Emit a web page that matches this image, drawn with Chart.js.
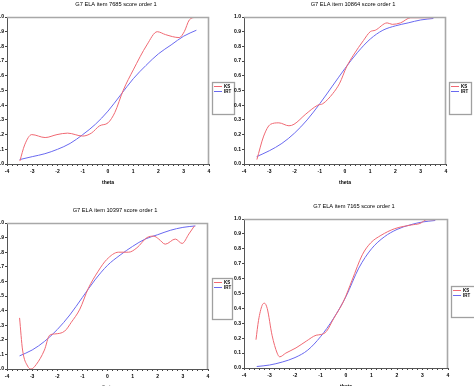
<!DOCTYPE html>
<html><head><meta charset="utf-8">
<script src="https://cdn.jsdelivr.net/npm/chart.js@4.4.1/dist/chart.umd.min.js"></script>
<style>
html,body{margin:0;padding:0;background:#fff;overflow:hidden;width:474px;height:386px;}
canvas{position:absolute;}
</style></head><body>
<script>
// ---------- data ----------
const titles = ["G7 ELA item 7685 score order 1","G7 ELA item 10864 score order 1","G7 ELA item 10397 score order 1","G7 ELA item 7165 score order 1"];
const seriesNames = ["KS","IRT"];
const xTitle = "theta";
const yTicks = [0,0.1,0.2,0.3,0.4,0.5,0.6,0.7,0.8,0.9,1.0];
const thetaIRT = [-3.5,-3,-2.5,-2,-1.5,-1,-0.5,0,0.5,1,1.5,2,2.5,3,3.5];

const thetaKS1 = [-3.49,-3.3,-3.02,-2.49,-2.02,-1.6,-1.0,-0.66,-0.33,0,0.27,0.6,1.0,1.54,1.95,2.28,2.82,3.02,3.22,3.48];
const ks1      = [0.02,0.13,0.20,0.18,0.20,0.21,0.19,0.21,0.26,0.28,0.35,0.50,0.64,0.81,0.90,0.88,0.86,0.90,0.98,1.0];
const irt1     = [0.03,0.05,0.07,0.10,0.14,0.20,0.27,0.36,0.47,0.58,0.67,0.75,0.81,0.87,0.91];

const thetaKS2 = [-3.49,-3.22,-2.95,-2.62,-2.22,-2.02,-1.55,-1.08,-0.88,-0.48,-0.21,0.06,0.33,0.73,1.0,1.2,1.67,1.87,2.2,2.6,3.48];
const ks2      = [0.03,0.19,0.27,0.28,0.26,0.27,0.34,0.40,0.41,0.48,0.55,0.66,0.74,0.84,0.90,0.91,0.96,0.95,0.96,0.995,0.995];
const irt2     = [0.05,0.09,0.14,0.21,0.30,0.41,0.53,0.65,0.76,0.85,0.91,0.94,0.96,0.98,0.99];

const thetaKS3 = [-3.5,-3.38,-3.18,-3.04,-2.84,-2.51,-2.31,-2.1,-1.7,-1.44,-1.1,-0.77,-0.37,-0.03,0.44,0.84,1.17,1.57,1.84,2.04,2.3,2.7,2.97,3.24,3.46];
const ks3      = [0.35,0.13,0.02,0.0,0.03,0.13,0.23,0.24,0.26,0.32,0.41,0.55,0.67,0.75,0.80,0.80,0.83,0.90,0.91,0.89,0.855,0.89,0.86,0.925,0.98];
const irt3     = [0.09,0.13,0.19,0.27,0.37,0.49,0.61,0.71,0.78,0.84,0.89,0.92,0.95,0.97,0.98];

const thetaKS4 = [-3.53,-3.43,-3.29,-3.2,-3.09,-2.9,-2.7,-2.6,-2.36,-1.96,-1.56,-1.17,-0.97,-0.77,-0.49,-0.09,0.24,0.64,0.97,1.37,1.91,2.57,2.9,3.17,3.5];
const ks4      = [0.19,0.32,0.42,0.435,0.40,0.22,0.10,0.075,0.10,0.135,0.18,0.22,0.225,0.245,0.33,0.45,0.59,0.76,0.84,0.89,0.935,0.96,0.97,0.995,0.995];
const irt4     = [0.01,0.02,0.04,0.07,0.12,0.21,0.33,0.48,0.67,0.80,0.88,0.93,0.96,0.98,0.99];

// ---------- layout (page coords) ----------
const panels = [
  {L:7, R:209, T:17, B:164, title:titles[0], tx:116, ty:4,  leg:[212,82,234,114], ksX:thetaKS1, ks:ks1, irt:irt1},
  {L:244,R:446,T:17, B:164, title:titles[1], tx:353, ty:4,  leg:[449,82,471,114], ksX:thetaKS2, ks:ks2, irt:irt2},
  {L:7, R:208, T:223,B:369, title:titles[2], tx:115, ty:210,leg:[212,278,232,319], ksX:thetaKS3, ks:ks3, irt:irt3},
  {L:244,R:448,T:219,B:368, title:titles[3], tx:354, ty:206,leg:[451,286,478,317], ksX:thetaKS4, ks:ks4, irt:irt4},
];
const RED = 'rgb(240,105,115)', BLUE = 'rgb(105,105,240)';
const FONT = '"Liberation Sans", Arial, sans-serif';
const YW = 26, XH = 22, PADT = 18;

const deco = {
  id:'deco',
  afterDraw(chart, args, o){
    const ctx = chart.ctx, a = chart.chartArea;
    ctx.save();
    // frame top/right
    ctx.strokeStyle = '#a8a8a8'; ctx.lineWidth = 1.6;
    ctx.beginPath();
    ctx.moveTo(a.left, a.top+0.5); ctx.lineTo(a.right-0.5, a.top+0.5); ctx.lineTo(a.right-0.5, a.bottom);
    ctx.stroke();
    // title
    ctx.fillStyle = '#000';
    ctx.font = '5.7px ' + FONT;
    ctx.textAlign = 'center'; ctx.textBaseline = 'middle';
    ctx.fillText(o.title, o.tx - o.ox, o.ty - o.oy);
    // legend box
    const [x0,y0,x1,y1] = o.leg.map((v,i)=> v - (i%2===0 ? o.ox : o.oy));
    ctx.strokeStyle = '#a0a0a0'; ctx.lineWidth = 1.3;
    ctx.strokeRect(x0+0.5, y0+0.5, x1-x0, y1-y0);
    chart.data.datasets.forEach((ds,i)=>{
      const yy = y0 + 4 + i*5;
      ctx.strokeStyle = ds.borderColor; ctx.lineWidth = 1;
      ctx.beginPath(); ctx.moveTo(x0+2, yy+0.5); ctx.lineTo(x0+10, yy+0.5); ctx.stroke();
      ctx.fillStyle = '#000'; ctx.font = 'bold 4.5px ' + FONT;
      ctx.textAlign = 'left'; ctx.textBaseline = 'middle';
      ctx.fillText(ds.label, x0+12, yy+0.5);
    });
    ctx.restore();
  }
};

panels.forEach(p=>{
  const ox = p.L - YW, oy = p.T - PADT;
  const w = p.leg[2] + 4 - ox, h = p.B + XH - oy;
  const cv = document.createElement('canvas');
  cv.width = w; cv.height = h;
  cv.style.left = ox + 'px'; cv.style.top = oy + 'px';
  cv.style.width = w + 'px'; cv.style.height = h + 'px';
  document.body.appendChild(cv);
  new Chart(cv, {
    type:'line',
    data:{datasets:[
      {label:seriesNames[0], data:p.ksX.map((x,i)=>({x, y:p.ks[i]})), borderColor:RED, borderWidth:1, pointRadius:0, cubicInterpolationMode:'monotone', fill:false},
      {label:seriesNames[1], data:thetaIRT.map((x,i)=>({x, y:p.irt[i]})), borderColor:BLUE, borderWidth:1, pointRadius:0, cubicInterpolationMode:'monotone', fill:false},
    ]},
    options:{
      responsive:false, animation:false, devicePixelRatio:1,
      layout:{padding:{left:0, top:PADT, right:w - (p.R - ox), bottom:0}},
      plugins:{legend:{display:false}, tooltip:{enabled:false},
        deco:{title:p.title, tx:p.tx, ty:p.ty, leg:p.leg, ox, oy}},
      scales:{
        x:{type:'linear', min:-4, max:4,
          afterBuildTicks(s){ const t=[]; for(let k=-40;k<=40;k+=2) t.push({value:k/10}); s.ticks=t; },
          afterFit(s){ s.height = XH; },
          ticks:{autoSkip:false, maxRotation:0, padding:3, color:'#000', font:{size:5, weight:'bold', family:FONT},
            callback:(v)=> Math.abs(v-Math.round(v))<1e-6 ? String(Math.round(v)) : ''},
          grid:{drawOnChartArea:false, drawTicks:true, tickLength:2, color:'#444'},
          border:{color:'#555', width:1},
          title:{display:true, text:xTitle, color:'#000', font:{size:5, weight:'bold', family:FONT}, padding:{top:2,bottom:0}}
        },
        y:{type:'linear', min:0, max:1,
          afterBuildTicks(s){ s.ticks = yTicks.map(v=>({value:v})); },
          afterFit(s){ s.width = YW; },
          ticks:{autoSkip:false, padding:1, color:'#000', font:{size:5, weight:'bold', family:FONT},
            callback:(v)=> Number(v).toFixed(1)},
          grid:{drawOnChartArea:false, drawTicks:true, tickLength:2, color:'#444'},
          border:{color:'#555', width:1}
        }
      }
    },
    plugins:[deco]
  });
});
</script>
</body></html>
